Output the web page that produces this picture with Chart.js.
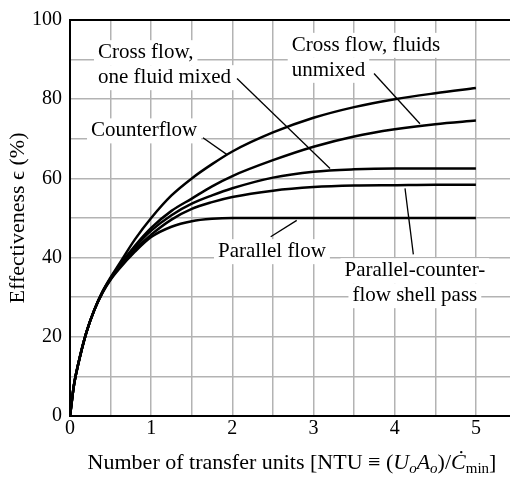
<!DOCTYPE html>
<html>
<head>
<meta charset="utf-8">
<script src="https://cdn.jsdelivr.net/npm/chart.js@4/dist/chart.umd.min.js"></script>
<style>
  html, body { margin: 0; padding: 0; background: #fff; }
  #wrap { width: 510px; height: 479px; }
</style>
</head>
<body>
<div id="wrap"><canvas id="c" width="510" height="479"></canvas></div>
<script>
// Number of transfer units (x) and effectiveness in percent (y) for each exchanger type
const ntu = [0, 0.05, 0.1, 0.2, 0.3, 0.4, 0.5, 0.6, 0.8, 1, 1.25, 1.5, 1.75, 2, 2.5, 3, 3.5, 4, 4.5, 5];
const counterflow   = [0, 8, 13, 21, 26.8, 31.4, 35, 38.2, 44.6, 50, 55.7, 60, 63.6, 66.8, 71.6, 75.3, 78, 80, 81.5, 82.8];
const crossUnmixed  = [0, 8, 13, 21, 26.8, 31.3, 34.8, 37.8, 43, 47.5, 51.8, 54.9, 58, 60.6, 64.6, 68, 70.6, 72.4, 73.7, 74.6];
const crossOneMixed = [0, 8, 13, 21, 26.8, 31.3, 34.7, 37.6, 42.6, 46.8, 50.7, 53.6, 55.7, 57.5, 60.2, 61.7, 62.3, 62.5, 62.5, 62.5];
const shellPass     = [0, 8, 13, 21, 26.8, 31.2, 34.6, 37.4, 42, 45.8, 49.6, 52.3, 54, 55.3, 56.9, 57.8, 58.2, 58.3, 58.4, 58.4];
const parallelFlow  = [0, 8, 13, 21, 26.8, 31.1, 34.4, 37, 41.5, 45.2, 47.8, 49.2, 49.8, 50, 50, 50, 50, 50, 50, 50];

// Grid positions and labelled ticks
const xGrid = [0, 0.5, 1, 1.5, 2, 2.5, 3, 3.5, 4, 4.5, 5];
const yGrid = [0, 10, 20, 30, 40, 50, 60, 70, 80, 90, 100];
const xLabels = [0, 1, 2, 3, 4, 5];
const yLabels = [0, 20, 40, 60, 80, 100];

const SERIF = '"Liberation Serif", "Times New Roman", serif';

// Callout texts (anchored in data units) and their leader lines
const notes = [
  { lines: ['Cross flow,', 'one fluid mixed'], x: 0.345, y: 91.75, align: 'left' },
  { lines: ['Counterflow'], x: 0.259, y: 72, align: 'left' },
  { lines: ['Cross flow, fluids', 'unmixed'], x: 2.731, y: 93.6, align: 'left' },
  { lines: ['Parallel flow'], x: 1.823, y: 41.5, align: 'left' },
  { lines: ['Parallel-counter-', 'flow shell pass'], x: 4.248, y: 36.7, align: 'center' }
];
const leaders = [
  [2.057, 85.25, 3.203, 62.5],
  [1.638, 70.25, 1.934, 66.0],
  [3.745, 86.5, 4.311, 73.8],
  [2.472, 45.25, 2.793, 49.4],
  [4.229, 40.8, 4.127, 57.5]
];

function series(values) {
  return {
    data: ntu.map((x, i) => ({ x: x, y: values[i] })),
    borderColor: '#000',
    borderWidth: 2.5,
    pointRadius: 0,
    fill: false,
    cubicInterpolationMode: 'monotone'
  };
}

const calloutBoxes = {
  id: 'calloutBoxes',
  beforeDatasetsDraw(chart) {
    const { ctx, scales: { x, y } } = chart;
    ctx.save();
    ctx.font = '21px ' + SERIF;
    ctx.fillStyle = '#fff';
    notes.forEach(n => {
      const px = x.getPixelForValue(n.x), py = y.getPixelForValue(n.y);
      n.lines.forEach((t, i) => {
        const w = ctx.measureText(t).width;
        const left = n.align === 'center' ? px - w / 2 : px;
        ctx.fillRect(left - 4, py + i * 25 - 12.5, w + 8, 25);
      });
    });
    ctx.restore();
  },
  afterDatasetsDraw(chart) {
    const { ctx, scales: { x, y }, chartArea } = chart;
    ctx.save();
    // leader lines
    ctx.strokeStyle = '#000';
    ctx.lineWidth = 1.3;
    leaders.forEach(l => {
      ctx.beginPath();
      ctx.moveTo(x.getPixelForValue(l[0]), y.getPixelForValue(l[1]));
      ctx.lineTo(x.getPixelForValue(l[2]), y.getPixelForValue(l[3]));
      ctx.stroke();
    });
    // callout texts
    ctx.fillStyle = '#000';
    ctx.font = '21px ' + SERIF;
    ctx.textBaseline = 'middle';
    notes.forEach(n => {
      const px = x.getPixelForValue(n.x), py = y.getPixelForValue(n.y);
      ctx.textAlign = n.align;
      n.lines.forEach((t, i) => ctx.fillText(t, px, py + i * 25));
    });
    // x-axis title with italic symbols and subscripts
    const big = 22, small = 15;
    const parts = [
      { t: 'Number of transfer units [NTU \u2261 (', f: big + 'px ' + SERIF, dy: 0 },
      { t: 'U', f: 'italic ' + big + 'px ' + SERIF, dy: 0 },
      { t: 'o', f: 'italic ' + small + 'px ' + SERIF, dy: 4 },
      { t: 'A', f: 'italic ' + big + 'px ' + SERIF, dy: 0 },
      { t: 'o', f: 'italic ' + small + 'px ' + SERIF, dy: 4 },
      { t: ')/', f: big + 'px ' + SERIF, dy: 0 },
      { t: '\u010A', f: 'italic ' + big + 'px ' + SERIF, dy: 0 },
      { t: 'min', f: small + 'px ' + SERIF, dy: 4 },
      { t: ']', f: big + 'px ' + SERIF, dy: 0 }
    ];
    let total = 0;
    parts.forEach(p => { ctx.font = p.f; p.w = ctx.measureText(p.t).width; total += p.w; });
    let cx = (chartArea.left + chartArea.right) / 2 + 2 - total / 2;
    const base = 469;
    ctx.textAlign = 'left';
    ctx.textBaseline = 'alphabetic';
    parts.forEach(p => { ctx.font = p.f; ctx.fillText(p.t, cx, base + p.dy); cx += p.w; });
    ctx.restore();
  }
};

new Chart(document.getElementById('c'), {
  type: 'line',
  data: {
    datasets: [
      series(counterflow),
      series(crossUnmixed),
      series(crossOneMixed),
      series(shellPass),
      series(parallelFlow)
    ]
  },
  options: {
    responsive: false,
    animation: false,
    devicePixelRatio: 1,
    layout: { padding: { top: 16, right: 0, bottom: 0, left: 0 } },
    plugins: { legend: { display: false }, tooltip: { enabled: false } },
    scales: {
      x: {
        type: 'linear',
        min: 0,
        max: 5.42,
        afterBuildTicks: s => { s.ticks = xGrid.map(v => ({ value: v })); },
        afterFit: s => { s.height = 63; },
        grid: { color: '#b3b3b3', lineWidth: 1.5, drawTicks: false },
        border: { color: '#000', width: 2 },
        ticks: {
          color: '#000',
          font: { family: SERIF, size: 20 },
          padding: 1,
          autoSkip: false,
          maxRotation: 0,
          callback: v => xLabels.includes(v) ? String(v) : ''
        }
      },
      y: {
        type: 'linear',
        min: 0,
        max: 100,
        afterBuildTicks: s => { s.ticks = yGrid.map(v => ({ value: v })); },
        afterFit: s => { s.width = 70; },
        grid: {
          color: c => c.tick && c.tick.value === 100 ? '#000' : '#b3b3b3',
          lineWidth: c => c.tick && c.tick.value === 100 ? 2 : 1.5,
          drawTicks: false
        },
        border: { color: '#000', width: 2 },
        ticks: {
          color: '#000',
          font: { family: SERIF, size: 20 },
          padding: 8,
          autoSkip: false,
          callback: v => yLabels.includes(v) ? String(v) : ''
        },
        title: {
          display: true,
          text: 'Effectiveness \u03F5 (%)',
          color: '#000',
          font: { family: SERIF, size: 22 },
          padding: { top: 5, bottom: 0 }
        }
      }
    }
  },
  plugins: [calloutBoxes]
});
</script>
</body>
</html>
